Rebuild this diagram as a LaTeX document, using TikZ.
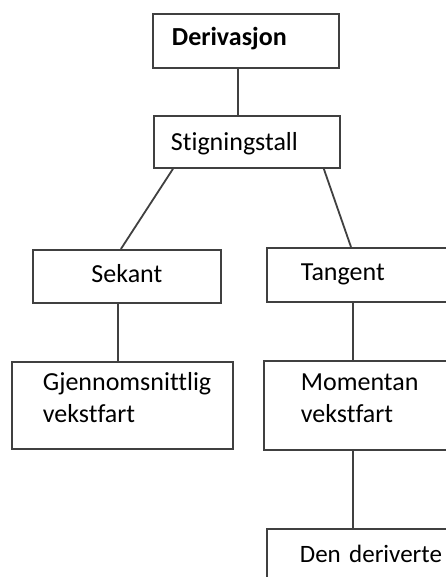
\documentclass[tikz,border=0pt]{standalone}
\usepackage{fontspec}
\setmainfont{Carlito}[Ligatures=NoCommon]
\tikzset{
  box/.style={draw=black!75, line width=1.8pt, anchor=north west, align=left, inner ysep=0pt,
    text height=17pt, text depth=5pt, font={\fontsize{26}{32}\selectfont\hyphenpenalty=10000 }},
  link/.style={draw=black!75, line width=1.8pt}
}

\begin{document}
\begin{tikzpicture}[x=1pt, y=-1pt]
\useasboundingbox (0,0) rectangle (446,577);
\clip (0,0) rectangle (446,577);
% boxes
\node[box, minimum height=54pt, inner xsep=19pt, text width=148pt, text depth=8pt] (der) at (152,13) {\bfseries Derivasjon};
\node[box, minimum height=52pt, inner xsep=17pt, text width=152pt, text depth=0pt] (stig) at (153,115) {Stigningstall};
\node[box, minimum height=53pt, inner xsep=10pt, text width=168pt, align=center] (sek) at (32,249) {Sekant};
\node[box, minimum height=54pt, inner xsep=34pt, text width=120pt] (tan) at (266,247) {Tangent};
\node[box, minimum height=87pt, inner xsep=31pt, text width=159pt, text depth=46pt] (gjen) at (11,361) {Gjennomsnittlig\\vekstfart};
\node[box, minimum height=89pt, inner xsep=37pt, text width=147pt, text depth=46pt] (mom) at (263,360) {Momentan\\vekstfart};
\node[box, minimum height=89pt, inner xsep=33pt, text width=155pt, text depth=38pt,
  font={\fontsize{25}{32}\selectfont}] (den) at (266,528) {Den deriverte};
% connectors
\draw[link] ([xshift=-8pt]der.south) -- ([xshift=-8pt]der.south |- stig.north);
\draw[link] ([xshift=20pt]stig.south west) -- ([xshift=-6pt]sek.north);
\draw[link] ([xshift=-17pt]stig.south east) -- ([xshift=85pt]tan.north west);
\draw[link] ([xshift=-9pt]sek.south) -- ([xshift=-9pt]sek.south |- gjen.north);
\draw[link] ([xshift=87pt]tan.south west) -- ([xshift=87pt]tan.south west |- mom.north);
\draw[link] ([xshift=90pt]mom.south west) -- ([xshift=90pt]mom.south west |- den.north);
\end{tikzpicture}
\end{document}
